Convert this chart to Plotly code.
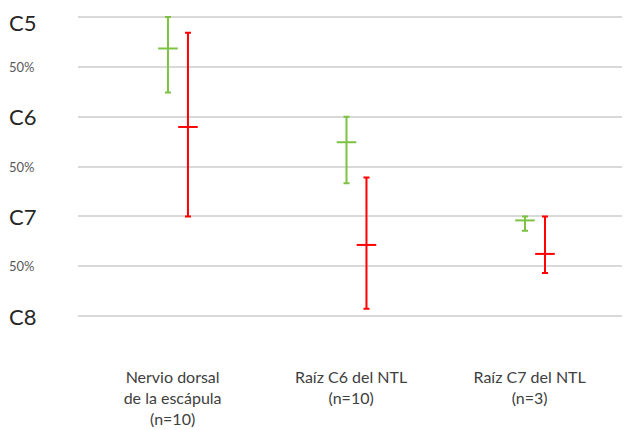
import plotly.graph_objects as go

categories = ["Nervio dorsal<br>de la escápula<br>(n=10)", "Raíz C6 del NTL<br>(n=10)", "Raíz C7 del NTL<br>(n=3)"]
level_vals = [5, 5.5, 6, 6.5, 7, 7.5, 8]
level_text = ["C5", "50%", "C6", "50%", "C7", "50%", "C8"]

green_mean = [5.316, 6.256, 7.04]
green_top = [5.0, 6.0, 7.0]
green_bottom = [5.757, 6.667, 7.143]

red_mean = [6.103, 7.286, 7.376]
red_top = [5.157, 6.61, 7.0]
red_bottom = [7.0, 7.926, 7.567]

GREEN = "#7dc242"
RED = "#ff0000"
shift = 0.03
off = 0.056

fig = go.Figure()

def add_series(mean, top, bottom, color, dx):
    xs = [i + shift + dx for i in range(len(mean))]
    fig.add_trace(go.Scatter(
        x=xs, y=mean, mode="markers",
        marker=dict(symbol="line-ew-open", size=14, color=color,
                    line=dict(color=color, width=2)),
        error_y=dict(type="data", symmetric=False,
                     array=[b - m for b, m in zip(bottom, mean)],
                     arrayminus=[m - t for m, t in zip(mean, top)],
                     color=color, thickness=2, width=3),
        showlegend=False, hoverinfo="skip"))

add_series(green_mean, green_top, green_bottom, GREEN, -off)
add_series(red_mean, red_top, red_bottom, RED, off)

for k, (v, t) in enumerate(zip(level_vals, level_text)):
    big = t.startswith("C")
    first = (k == 0)
    fig.add_annotation(
        x=0, xref="paper", y=v, yref="y", xshift=-70, xanchor="left",
        yanchor="top" if first else "middle", yshift=9 if first else 0,
        borderpad=0,
        text=t, showarrow=False,
        font=dict(family="Lato", size=22 if big else 13,
                  color="#262626" if big else "#595959"))

fig.update_layout(
    width=630, height=430,
    margin=dict(l=70, r=0, t=0, b=72),
    paper_bgcolor="white", plot_bgcolor="white",
    font=dict(family="Lato", color="#404040"),
    xaxis=dict(range=[-0.53, 2.607], tickvals=[0, 1, 2], ticktext=categories,
               showgrid=False, zeroline=False, showline=False, ticks="",
               tickfont=dict(size=16, color="#404040"), automargin=False,
               fixedrange=True),
    yaxis=dict(range=[8.5, 4.91], tickvals=level_vals, showticklabels=False,
               showgrid=True, gridcolor="#d9d9d9", gridwidth=2,
               zeroline=False, showline=False, ticks="", automargin=False),
)

fig.write_html("out.html")
